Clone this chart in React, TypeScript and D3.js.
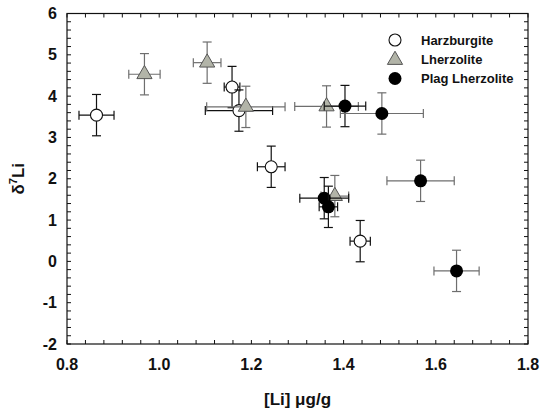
import React from "react";
import * as d3 from "d3";

const harzX = [0.864, 1.158, 1.173, 1.243, 1.436];
const harzY = [3.54, 4.22, 3.65, 2.29, 0.49];
const harzXErr = [0.038, 0.017, 0.073, 0.03, 0.022];
const harzYErr = [0.5, 0.5, 0.5, 0.5, 0.5];

const lherzX = [0.968, 1.104, 1.188, 1.363, 1.381];
const lherzY = [4.53, 4.81, 3.74, 3.75, 1.58];
const lherzXErr = [0.034, 0.03, 0.085, 0.069, 0.03];
const lherzYErr = [0.5, 0.5, 0.5, 0.5, 0.5];

const plagX = [1.403, 1.483, 1.567, 1.358, 1.367, 1.645];
const plagY = [3.76, 3.58, 1.95, 1.53, 1.32, -0.23];
const plagXErr = [0.045, 0.09, 0.073, 0.053, 0.02, 0.049];
const plagYErr = [0.5, 0.5, 0.5, 0.5, 0.5, 0.5];

const seriesNames = ["Harzburgite", "Lherzolite", "Plag Lherzolite"];
const xTicks = [0.8, 1.0, 1.2, 1.4, 1.6, 1.8];
const yTicks = [-2, -1, 0, 1, 2, 3, 4, 5, 6];

// style: which plag lherzolite points have grey error bars
const plagGreyBars = [false, true, true, false, false, true];

const W = 542;
const H = 413;
const L = 67, R = 528, T = 13.5, B = 344;

export default function App() {
  const x = d3.scaleLinear().domain([0.8, 1.8]).range([L, R]);
  const y = d3.scaleLinear().domain([-2, 6]).range([B, T]);
  const font = "'Liberation Sans', Arial, sans-serif";
  const cap = 4.5;
  const tri = d3.symbol().type(d3.symbolTriangle).size(100)() as string;

  const minorX = d3.range(0, 26).map((i) => 0.8 + i * 0.04);
  const minorY = d3.range(0, 41).map((i) => -2 + i * 0.2);

  const errBars = (px: number, py: number, xe: number, ye: number, color: string, key: string) => {
    const x0 = x(px - xe), x1 = x(px + xe), y0 = y(py - ye), y1 = y(py + ye);
    const cx = x(px), cy = y(py);
    return (
      <g key={key} stroke={color} strokeWidth={1.2} fill="none">
        <line x1={x0} x2={x1} y1={cy} y2={cy} />
        <line x1={x0} x2={x0} y1={cy - cap} y2={cy + cap} />
        <line x1={x1} x2={x1} y1={cy - cap} y2={cy + cap} />
        <line x1={cx} x2={cx} y1={y0} y2={y1} />
        <line x1={cx - cap} x2={cx + cap} y1={y0} y2={y0} />
        <line x1={cx - cap} x2={cx + cap} y1={y1} y2={y1} />
      </g>
    );
  };

  const points: React.ReactNode[] = [];
  harzX.forEach((v, i) => {
    points.push(errBars(v, harzY[i], harzXErr[i], harzYErr[i], "#111", "hb" + i));
    points.push(
      <circle key={"hc" + i} cx={x(v)} cy={y(harzY[i])} r={6} fill="#fff" stroke="#111" strokeWidth={1.1} />
    );
  });
  lherzX.forEach((v, i) => {
    points.push(errBars(v, lherzY[i], lherzXErr[i], lherzYErr[i], "#6e6e6e", "lb" + i));
    points.push(
      <path key={"lt" + i} d={tri} transform={`translate(${x(v)},${y(lherzY[i])})`} fill="#b2b4a8" stroke="#555" strokeWidth={1} />
    );
  });
  plagX.forEach((v, i) => {
    points.push(errBars(v, plagY[i], plagXErr[i], plagYErr[i], plagGreyBars[i] ? "#6e6e6e" : "#111", "pb" + i));
    points.push(<circle key={"pc" + i} cx={x(v)} cy={y(plagY[i])} r={6.5} fill="#000" />);
  });

  return (
    <svg width={W} height={H} style={{ position: "absolute", left: 0, top: 0, background: "#fff" }} fontFamily={font}>
      <rect x={0} y={0} width={W} height={H} fill="#fff" />
      {/* ticks */}
      <g stroke="#111" strokeWidth={1}>
        {minorX.map((t, i) => (
          <g key={"tx" + i}>
            <line x1={x(t)} x2={x(t)} y1={B} y2={B - 4} />
            <line x1={x(t)} x2={x(t)} y1={T} y2={T + 4} />
          </g>
        ))}
        {minorY.map((t, i) => (
          <g key={"ty" + i}>
            <line x1={L} x2={L + 4} y1={y(t)} y2={y(t)} />
            <line x1={R} x2={R - 4} y1={y(t)} y2={y(t)} />
          </g>
        ))}
      </g>
      <rect x={L} y={T} width={R - L} height={B - T} fill="none" stroke="#111" strokeWidth={1.2} />
      {xTicks.map((t) => (
        <text key={"xl" + t} x={x(t)} y={370} textAnchor="middle" fontSize={16} fontWeight="bold" fill="#111">
          {t.toFixed(1)}
        </text>
      ))}
      {yTicks.map((t) => (
        <text key={"yl" + t} x={57} y={y(t) + 5.5} textAnchor="end" fontSize={16} fontWeight="bold" fill="#111">
          {t}
        </text>
      ))}
      <text x={(L + R) / 2} y={405} textAnchor="middle" fontSize={17} fontWeight="bold" fill="#111">
        [Li] μg/g
      </text>
      <text transform={`translate(24,${(T + B) / 2}) rotate(-90)`} textAnchor="middle" fontSize={17} fontWeight="bold" fill="#111">
        δ<tspan fontSize={11} dy={-7}>7</tspan>
        <tspan dy={7}>Li</tspan>
      </text>
      {points}
      {/* legend */}
      <g>
        <circle cx={395} cy={40} r={6} fill="#fff" stroke="#111" strokeWidth={1.1} />
        <path d={tri} transform="translate(395,60)" fill="#b2b4a8" stroke="#555" strokeWidth={1} />
        <circle cx={395} cy={78.5} r={6.5} fill="#000" />
        {seriesNames.map((n, i) => (
          <text key={n} x={421} y={44.5 + i * 19.2} fontSize={13} fontWeight="bold" fill="#111">
            {n}
          </text>
        ))}
      </g>
    </svg>
  );
}
